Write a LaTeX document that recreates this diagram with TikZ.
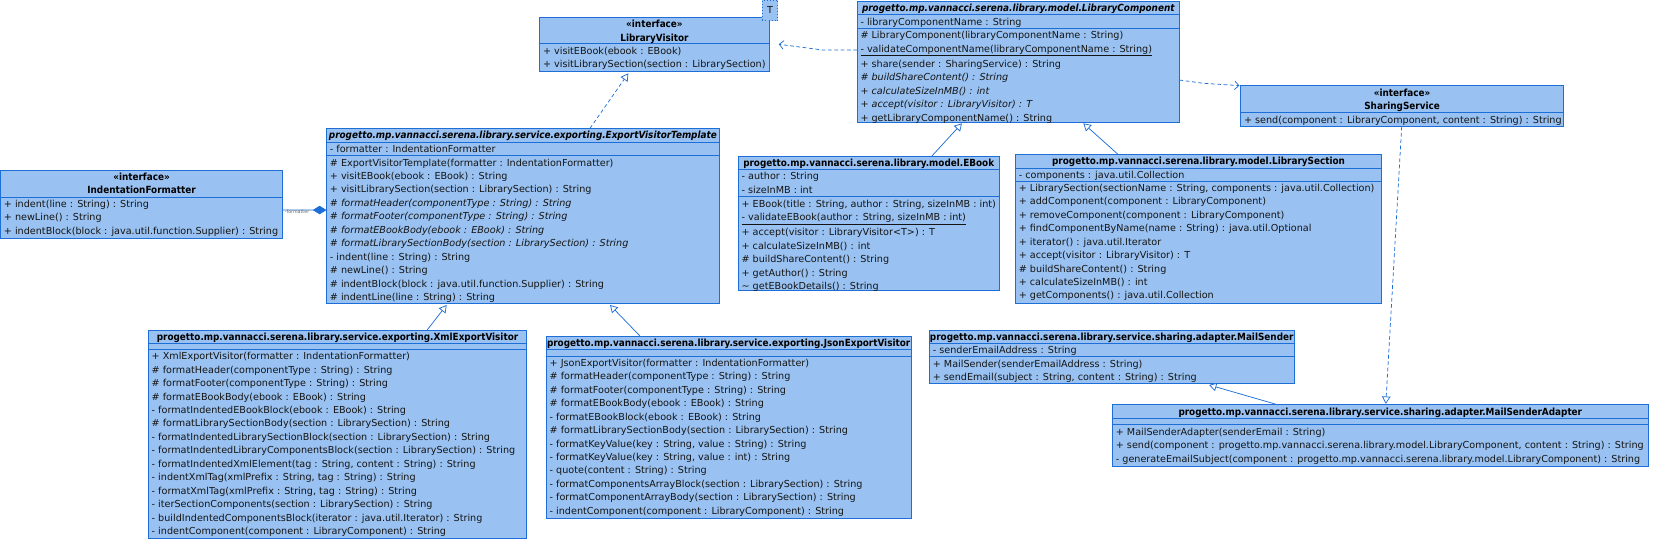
\documentclass[tikz,border=0pt]{standalone}
\usepackage{fontspec}
\setmainfont{DejaVu Sans}
\newfontfamily\condfont{DejaVu Sans Condensed}
\usetikzlibrary{arrows.meta,calc}
\definecolor{umlfill}{RGB}{153,194,242}
\definecolor{umlline}{RGB}{30,110,215}
\definecolor{umltext}{RGB}{20,20,20}
\newcommand\rs{\rule[-3.1pt]{0pt}{12.7pt}}
\newcommand\rowfont{\fontsize{9.1}{12.7}\selectfont}
\newcommand\titlefont{\condfont\fontsize{9.3}{12.7}\selectfont\bfseries}
\newcommand\usep[2]{\draw[sepl] ([yshift=-#2pt]#1.north west) -- ([yshift=-#2pt]#1.north east);}
\begin{document}
\begin{tikzpicture}[x=1pt,y=-1pt,
  cls/.style={draw=umlline, fill=umlfill, line width=0.9pt, anchor=north west, inner sep=0pt, outer sep=0pt},
  tbox/.style={draw=umlline, dotted, fill=umlfill, line width=0.9pt, anchor=north west, inner sep=0pt, outer sep=0pt, font=\rowfont, text=umltext},
  sepl/.style={draw=umlline, line width=0.9pt},
  rows/.style={anchor=north west, inner sep=0pt, align=left, font=\rowfont, text=umltext},
  ttl/.style={anchor=north, inner sep=0pt, align=center, font=\titlefont, text=black},
  ttli/.style={ttl, font=\titlefont\itshape},
  conn/.style={draw=umlline, line width=0.7pt},
  dashln/.style={dash pattern=on 3.5pt off 2.5pt},
  gen/.style={conn, -{Triangle[open, length=7pt, width=8pt, fill=white]}},
  real/.style={gen, dashln},
  dep/.style={conn, dashln, -{Straight Barb[length=4pt, width=8pt]}},
  comp/.style={conn, -{Diamond[length=13pt, width=8pt, fill=umlline]}},
  lbl/.style={font=\fontsize{4.5}{5}\selectfont, text=black!60, inner sep=0pt},
]
\useasboundingbox (0,0) rectangle (1568,510);

% LibraryVisitor
\node[cls, minimum width=217pt, minimum height=51.4pt] (lv) at (509.7,16.4) {};
\usep{lv}{25}
\node[ttl] (lvt) at (lv.north) {\rs«interface»\\\rs LibraryVisitor};
\node[rows] (lvm) at ([shift={(3pt,-25pt)}]lv.north west) {\rs + visitEBook(ebook : EBook)\\\rs + visitLibrarySection(section : LibrarySection)};
\node[tbox, minimum width=14.4pt, minimum height=19.8pt] (tpar) at (720.1,0) {T};

% LibraryComponent
\node[cls, minimum width=304.5pt, minimum height=114pt] (lc) at (809.6,1.6) {};
\usep{lc}{12.3}\usep{lc}{25.1}
\node[ttli] (lct) at ([yshift=0.4pt]lc.north) {\rs progetto.mp.vannacci.serena.library.model.LibraryComponent};
\node[rows] (lca) at ([shift={(3pt,-12.3pt)}]lc.north west) {\rs - libraryComponentName : String};
\node[rows] (lcm) at ([shift={(3pt,-25.1pt)}]lc.north west) {\rs \# LibraryComponent(libraryComponentName : String)\\
\rs \underline{- validateComponentName(libraryComponentName : String)}\\
\rs + share(sender : SharingService) : String\\
\rs {\itshape \# buildShareContent() : String}\\
\rs {\itshape + calculateSizeInMB() : int}\\
\rs {\itshape + accept(visitor : LibraryVisitor) : T}\\
\rs + getLibraryComponentName() : String};

% SharingService
\node[cls, minimum width=305pt, minimum height=39.3pt] (ss) at (1171.9,80.3) {};
\usep{ss}{26.1}
\node[ttl] (sst) at ([yshift=-0.6pt]ss.north) {\rs«interface»\\\rs SharingService};
\node[rows] (ssm) at ([shift={(3pt,-26.1pt)}]ss.north west) {\rs + send(component : LibraryComponent, content : String) : String};

% IndentationFormatter
\node[cls, minimum width=266.4pt, minimum height=64.5pt] (inf) at (0.5,160.6) {};
\usep{inf}{25.5}
\node[ttl] (inft) at (inf.north) {\rs«interface»\\\rs IndentationFormatter};
\node[rows] (infm) at ([shift={(3pt,-25.5pt)}]inf.north west) {\rs + indent(line : String) : String\\
\rs + newLine() : String\\
\rs + indentBlock(block : java.util.function.Supplier) : String};

% ExportVisitorTemplate
\node[cls, minimum width=371pt, minimum height=165.6pt] (evt) at (308.4,121.2) {};
\usep{evt}{13.2}\usep{evt}{25.9}
\node[ttli] (evtt) at (evt.north) {\rs progetto.mp.vannacci.serena.library.service.exporting.ExportVisitorTemplate};
\node[rows] (evta) at ([shift={(3pt,-13.2pt)}]evt.north west) {\rs - formatter : IndentationFormatter};
\node[rows] (evtm) at ([shift={(3pt,-25.9pt)}]evt.north west) {\rs \# ExportVisitorTemplate(formatter : IndentationFormatter)\\
\rs + visitEBook(ebook : EBook) : String\\
\rs + visitLibrarySection(section : LibrarySection) : String\\
\rs {\itshape \# formatHeader(componentType : String) : String}\\
\rs {\itshape \# formatFooter(componentType : String) : String}\\
\rs {\itshape \# formatEBookBody(ebook : EBook) : String}\\
\rs {\itshape \# formatLibrarySectionBody(section : LibrarySection) : String}\\
\rs - indent(line : String) : String\\
\rs \# newLine() : String\\
\rs \# indentBlock(block : java.util.function.Supplier) : String\\
\rs \# indentLine(line : String) : String};

% EBook
\node[cls, minimum width=246.5pt, minimum height=127.4pt] (eb) at (697.3,147.4) {};
\usep{eb}{12.5}\usep{eb}{38.5}
\node[ttl] (ebt) at (eb.north) {\rs progetto.mp.vannacci.serena.library.model.EBook};
\node[rows] (eba) at ([shift={(3pt,-12.5pt)}]eb.north west) {\rs - author : String\\\rs - sizeInMB : int};
\node[rows] (ebm) at ([shift={(3pt,-38.5pt)}]eb.north west) {\rs + EBook(title : String, author : String, sizeInMB : int)\\
\rs \underline{- validateEBook(author : String, sizeInMB : int)}\\
\rs + accept(visitor : LibraryVisitor<T>) : T\\
\rs + calculateSizeInMB() : int\\
\rs \# buildShareContent() : String\\
\rs + getAuthor() : String\\
\rs \textasciitilde{} getEBookDetails() : String};

% LibrarySection
\node[cls, minimum width=346pt, minimum height=140.8pt] (ls) at (959.1,145.5) {};
\usep{ls}{13.2}\usep{ls}{25.5}
\node[ttl] (lst) at (ls.north) {\rs progetto.mp.vannacci.serena.library.model.LibrarySection};
\node[rows] (lsa) at ([shift={(3pt,-13.2pt)}]ls.north west) {\rs - components : java.util.Collection};
\node[rows] (lsm) at ([shift={(3pt,-25.5pt)}]ls.north west) {\rs + LibrarySection(sectionName : String, components : java.util.Collection)\\
\rs + addComponent(component : LibraryComponent)\\
\rs + removeComponent(component : LibraryComponent)\\
\rs + findComponentByName(name : String) : java.util.Optional\\
\rs + iterator() : java.util.Iterator\\
\rs + accept(visitor : LibraryVisitor) : T\\
\rs \# buildShareContent() : String\\
\rs + calculateSizeInMB() : int\\
\rs + getComponents() : java.util.Collection};

% XmlExportVisitor
\node[cls, minimum width=357.4pt, minimum height=196.5pt] (xml) at (140.1,312.3) {};
\usep{xml}{12}\usep{xml}{17.7}
\node[ttl] (xmlt) at (xml.north) {\rs progetto.mp.vannacci.serena.library.service.exporting.XmlExportVisitor};
\node[rows] (xmlm) at ([shift={(3pt,-17.7pt)}]xml.north west) {\rs + XmlExportVisitor(formatter : IndentationFormatter)\\
\rs \# formatHeader(componentType : String) : String\\
\rs \# formatFooter(componentType : String) : String\\
\rs \# formatEBookBody(ebook : EBook) : String\\
\rs - formatIndentedEBookBlock(ebook : EBook) : String\\
\rs \# formatLibrarySectionBody(section : LibrarySection) : String\\
\rs - formatIndentedLibrarySectionBlock(section : LibrarySection) : String\\
\rs - formatIndentedLibraryComponentsBlock(section : LibrarySection) : String\\
\rs - formatIndentedXmlElement(tag : String, content : String) : String\\
\rs - indentXmlTag(xmlPrefix : String, tag : String) : String\\
\rs - formatXmlTag(xmlPrefix : String, tag : String) : String\\
\rs - iterSectionComponents(section : LibrarySection) : String\\
\rs - buildIndentedComponentsBlock(iterator : java.util.Iterator) : String\\
\rs - indentComponent(component : LibraryComponent) : String};

% JsonExportVisitor
\node[cls, minimum width=344.5pt, minimum height=172.3pt] (json) at (516,317.4) {};
\usep{json}{12.6}\usep{json}{18.9}
\node[ttl] (jsont) at (json.north) {\rs progetto.mp.vannacci.serena.library.service.exporting.JsonExportVisitor};
\node[rows] (jsonm) at ([shift={(3pt,-18.9pt)}]json.north west) {\rs + JsonExportVisitor(formatter : IndentationFormatter)\\
\rs \# formatHeader(componentType : String) : String\\
\rs \# formatFooter(componentType : String) : String\\
\rs \# formatEBookBody(ebook : EBook) : String\\
\rs - formatEBookBlock(ebook : EBook) : String\\
\rs \# formatLibrarySectionBody(section : LibrarySection) : String\\
\rs - formatKeyValue(key : String, value : String) : String\\
\rs - formatKeyValue(key : String, value : int) : String\\
\rs - quote(content : String) : String\\
\rs - formatComponentsArrayBlock(section : LibrarySection) : String\\
\rs - formatComponentArrayBody(section : LibrarySection) : String\\
\rs - indentComponent(component : LibraryComponent) : String};

% MailSender
\node[cls, minimum width=344.4pt, minimum height=50pt] (ms) at (877.9,312.3) {};
\usep{ms}{12}\usep{ms}{24.6}
\node[ttl] (mst) at (ms.north) {\rs progetto.mp.vannacci.serena.library.service.sharing.adapter.MailSender};
\node[rows] (msa1) at ([shift={(3pt,-12pt)}]ms.north west) {\rs - senderEmailAddress : String};
\node[rows] (msm) at ([shift={(3pt,-24.6pt)}]ms.north west) {\rs + MailSender(senderEmailAddress : String)\\
\rs + sendEmail(subject : String, content : String) : String};

% MailSenderAdapter
\node[cls, minimum width=506pt, minimum height=58pt] (msa) at (1050.8,382.5) {};
\usep{msa}{12.9}\usep{msa}{18.9}
\node[ttl] (msat) at (msa.north) {\rs progetto.mp.vannacci.serena.library.service.sharing.adapter.MailSenderAdapter};
\node[rows] (msam) at ([shift={(3pt,-18.9pt)}]msa.north west) {\rs + MailSenderAdapter(senderEmail : String)\\
\rs + send(component : progetto.mp.vannacci.serena.library.model.LibraryComponent, content : String) : String\\
\rs - generateEmailSubject(component : progetto.mp.vannacci.serena.library.model.LibraryComponent) : String};

% connectors
\coordinate (k1) at (776.8,47.2);
\draw[dep] ($(lc.north west)+(0,45.6)$) -- (k1) -- ($(lv.north east)+(8.9,25.4)$);
\coordinate (k2) at (1137,78.7);
\draw[dep] ($(lc.north east)+(0,74)$) -- (k2) -- ($(ss.north west)+(-1.2,0.6)$);
\draw[real] ($(evt.north west)+(248.9,0)$) -- ($(lv.south west)+(83.8,1.5)$);
\draw[gen] ($(eb.north west)+(182.9,0)$) -- ($(lc.south west)+(99,0.9)$);
\draw[gen] ($(ls.north west)+(96.6,0)$) -- ($(lc.south west)+(213.7,0.9)$);
\draw[gen] ($(xml.north west)+(262.9,0)$) -- ($(evt.south west)+(113.5,1.3)$);
\draw[gen] ($(json.north west)+(88.5,0)$) -- ($(evt.south west)+(267.8,1.3)$);
\draw[gen] ($(msa.north west)+(156.7,0)$) -- ($(ms.south west)+(264.1,1.3)$);
\draw[real] ($(ss.south west)+(152.1,0)$) -- ($(msa.north west)+(258.2,-1)$);
\draw[comp] ($(inf.north east)+(0,37.8)$) -- ($(evt.north west)+(0,77.2)$)
  node[lbl, pos=0.33, yshift=-2pt] (fmtl) {-formatter};
\end{tikzpicture}
\end{document}
